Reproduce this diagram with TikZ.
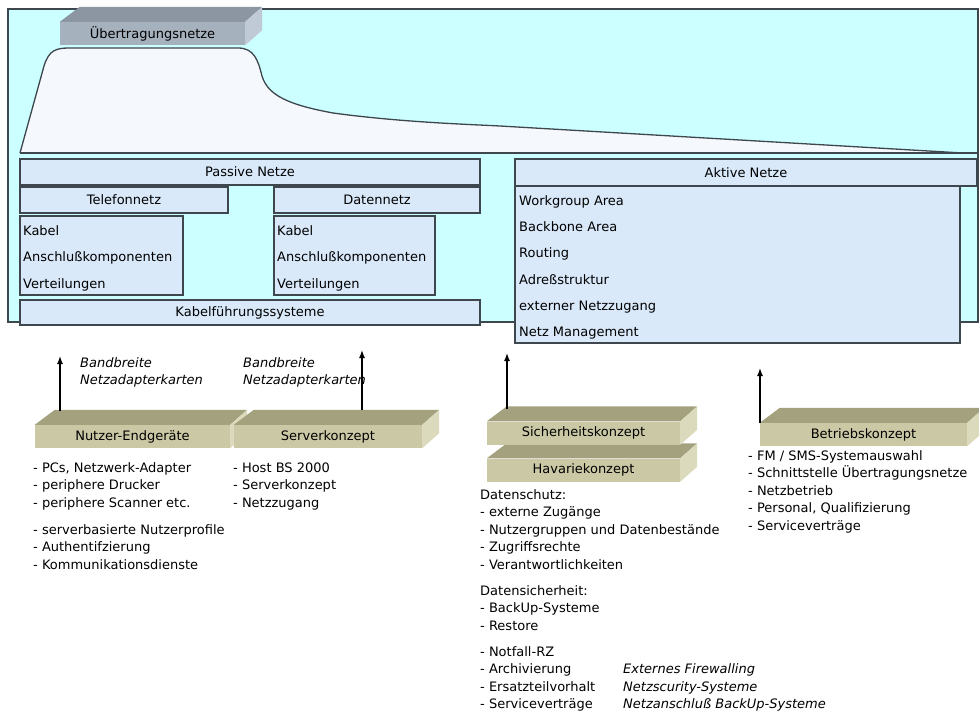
\documentclass[tikz,border=0pt]{standalone}
\usepackage{fontspec}
\setmainfont{DejaVu Sans}
\usetikzlibrary{arrows.meta}

\definecolor{panelcyan}{RGB}{204,255,255}
\definecolor{boxblau}{RGB}{217,233,250}
\definecolor{rahmen}{RGB}{62,70,78}
\definecolor{kurvenweiss}{RGB}{245,248,252}
\definecolor{grautop}{RGB}{140,150,162}
\definecolor{graufront}{RGB}{166,177,190}
\definecolor{grauside}{RGB}{192,202,214}
\definecolor{khakitop}{RGB}{164,162,126}
\definecolor{khakifront}{RGB}{203,201,165}
\definecolor{khakiside}{RGB}{220,218,188}

\tikzset{
	box/.style={draw=rahmen, line width=1.2pt, fill=boxblau, inner sep=0pt},
	liste/.style={anchor=base west, inner sep=0pt},
	kursiv/.style={anchor=base west, inner sep=0pt, font=\fontsize{13}{16}\selectfont\itshape},
	pfeil/.style={line width=1.4pt, -{Latex[length=8pt,width=6pt]}},
	grau front/.style={fill=graufront, inner sep=0pt, minimum height=23pt},
	grau top/.style={fill=grautop},
	grau side/.style={fill=grauside},
	khaki front/.style={fill=khakifront, inner sep=0pt, minimum height=23pt},
	khaki top/.style={fill=khakitop},
	khaki side/.style={fill=khakiside},
}
% 3D-Klotz: [farbe]{breite}(mitte der front){name}{text}
\def\klotz[#1]#2(#3)#4#5{%
	\node[#1 front, minimum width=#2] (#4) at (#3) {#5};
	\fill[#1 top] (#4.north west) -- ++(20,-15) -- ([shift={(17,-15)}]#4.north east) -- (#4.north east) -- cycle;
	\fill[#1 side] (#4.north east) -- ++(17,-15) -- ([shift={(17,-15)}]#4.south east) -- (#4.south east) -- cycle;
}

\begin{document}
\begin{tikzpicture}[x=1pt, y=-1pt, font=\fontsize{13}{16}\selectfont]
		%%%%% START %%%%%
		\useasboundingbox[fill=white] (0,0) rectangle (979,717);
		
		\draw[rahmen, line width=1.3pt, fill=panelcyan] (8,9) rectangle (978,322);
		
		\draw[rahmen, line width=1.3pt, fill=kurvenweiss] (20,153) -- (44,66) .. controls (49,50) and (56,48) .. (70,48) -- (238,48) .. controls (254,48) and (258,60) .. (262,76) .. controls (268,96) and (290,105) .. (333,113) .. controls (400,122) and (460,124) .. (500,126) -- (963,153);
		\draw[rahmen, line width=1.3pt] (20,153) -- (977,153);
		
		\klotz[grau]{185pt}(152.5,33.5){uebertragung}{Übertragungsnetze}
		
		%%%%% passive netze %%%%%
		\node[box, minimum width=460pt, minimum height=26pt] (passiv) at (250,172) {Passive Netze};
		\node[box, minimum width=208pt, minimum height=26pt] (telefon) at (124,200) {Telefonnetz};
		\node[box, minimum width=206pt, minimum height=26pt] (daten) at (377,200) {Datennetz};
		\node[box, minimum width=163pt, minimum height=79pt] (telliste) at (101.5,255.5) {};
		\node[box, minimum width=161pt, minimum height=79pt] (datliste) at (354.5,255.5) {};
		\foreach \y/\t [count=\i] in {235/Kabel, 261.5/Anschlußkomponenten, 288/Verteilungen} {
			\node[liste] (tel\i) at (23,\y) {\t};
			\node[liste] (dat\i) at (277,\y) {\t};
		}
		\node[box, minimum width=460pt, minimum height=25pt] (kabel) at (250,312.5) {Kabelführungssysteme};
		
		%%%%% aktive netze %%%%%
		\node[box, minimum width=445pt, minimum height=157pt] (aktliste) at (737.5,264.5) {};
		\node[box, minimum width=462pt, minimum height=27pt] (aktiv) at (746,172.5) {Aktive Netze};
		\foreach \t [count=\i] in {Workgroup Area, Backbone Area, Routing, Adreßstruktur, externer Netzzugang, Netz Management}
			\node[liste] (akt\i) at (519,179.2+26.2*\i) {\t};
		
		%%%%% konzepte %%%%%
		\klotz[khaki]{195pt}(132.5,436.5){nutzer}{Nutzer-Endgeräte}
		\klotz[khaki]{188pt}(328,436.5){server}{Serverkonzept}
		\klotz[khaki]{193pt}(583.5,470){havarie}{Havariekonzept}
		\klotz[khaki]{193pt}(583.5,433){sicher}{Sicherheitskonzept}
		\klotz[khaki]{207pt}(863.5,434.5){betrieb}{Betriebskonzept}
		
		\coordinate (spitze1) at (60,356);
		\coordinate (spitze2) at (362,350);
		\coordinate (spitze3) at (507,353);
		\coordinate (spitze4) at (760,368);
		\draw[pfeil, shorten <=14pt] (spitze1 |- nutzer.north) -- (spitze1);
		\draw[pfeil, shorten <=15pt] (spitze2 |- server.north) -- (spitze2);
		\draw[pfeil, shorten <=12pt] (spitze3 |- sicher.north) -- (spitze3);
		\draw[pfeil] (spitze4 |- betrieb.north) -- (spitze4);
		
		\node[kursiv] (band1) at (80,367) {Bandbreite};
		\node[kursiv] (karte1) at (80,384) {Netzadapterkarten};
		\node[kursiv] (band2) at (243,367) {Bandbreite};
		\node[kursiv] (karte2) at (243,384) {Netzadapterkarten};
		
		%%%%% listen %%%%%
		\foreach \y/\t [count=\i] in {472/{- PCs, Netzwerk-Adapter}, 489.5/- periphere Drucker, 507/- periphere Scanner etc., 534/- serverbasierte Nutzerprofile, 551.5/- Authentifzierung, 569/- Kommunikationsdienste}
			\node[liste] (nutz\i) at (33,\y) {\t};
		\foreach \y/\t [count=\i] in {472/- Host BS 2000, 489.5/- Serverkonzept, 507/- Netzzugang}
			\node[liste] (serv\i) at (233,\y) {\t};
		\foreach \y/\t [count=\i] in {499/Datenschutz:, 516.5/- externe Zugänge, 534/- Nutzergruppen und Datenbestände, 551.5/- Zugriffsrechte, 569/- Verantwortlichkeiten, 595/Datensicherheit:, 612.5/- BackUp-Systeme, 630/- Restore, 656/- Notfall-RZ, 673.5/- Archivierung, 691/- Ersatzteilvorhalt, 708.5/- Serviceverträge}
			\node[liste] (sich\i) at (480,\y) {\t};
		\foreach \y/\t [count=\i] in {673.5/Externes Firewalling, 691/Netzscurity-Systeme, 708.5/Netzanschluß BackUp-Systeme}
			\node[kursiv] (sichk\i) at (623,\y) {\t};
		\foreach \y/\t [count=\i] in {460/{- FM / SMS-Systemauswahl}, 477.5/- Schnittstelle Übertragungsnetze, 495/- Netzbetrieb, 512.5/{- Personal, Qualifizierung}, 530/- Serviceverträge}
			\node[liste] (betr\i) at (748,\y) {\t};
		
		%%%%% END %%%%%
\end{tikzpicture}
\end{document}
